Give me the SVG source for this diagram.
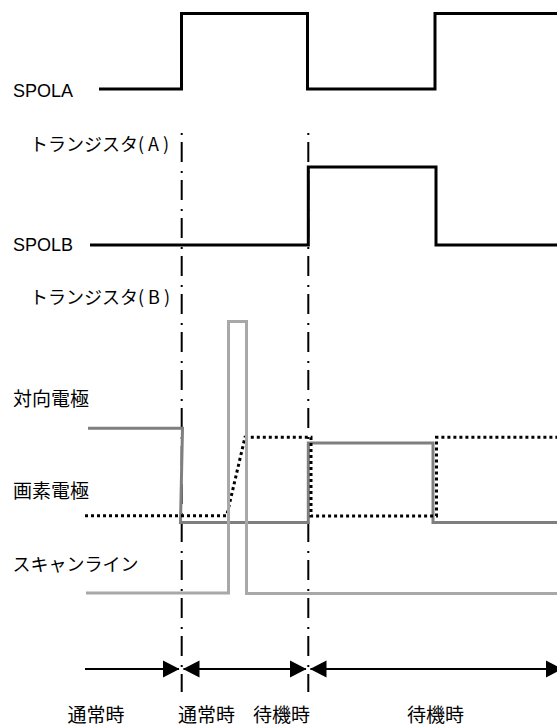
<svg xmlns="http://www.w3.org/2000/svg" width="557" height="726" viewBox="0 0 557 726">
  <style>
    .lat { font-family: "Liberation Sans", Arial, sans-serif; font-size: 18px; fill: #000; }
    .jp { font-family: "Noto Sans CJK JP", "Liberation Sans", sans-serif; font-size: 18px; fill: #000; }
    .kj { font-family: "Noto Sans CJK JP", "Liberation Sans", sans-serif; font-size: 19px; fill: #000; }
    .sig { fill: none; stroke: #000; stroke-width: 3; stroke-linejoin: miter; }
    .guide { fill: none; stroke: #000; stroke-width: 2; stroke-dasharray: 2 7 20 9; }
    .counter { fill: none; stroke: #7f7f7f; stroke-width: 3; }
    .pixel { fill: none; stroke: #000; stroke-width: 3; stroke-dasharray: 3 3; }
    .scan { fill: none; stroke: #a8a8a8; stroke-width: 3; }
    .arrow { fill: none; stroke: #000; stroke-width: 2; }
  </style>
  <defs>
    <marker id="ah" markerUnits="userSpaceOnUse" markerWidth="17" markerHeight="18" refX="16" refY="9" orient="auto-start-reverse">
      <path d="M0,0.5 L16.5,9 L0,17.5 z" fill="#000"/>
    </marker>
  </defs>

  <g id="labels">
    <text id="lbl-spola" class="lat" x="13" y="97">SPOLA</text>
    <text id="lbl-trA" class="jp" x="30" y="151">トランジスタ( A )</text>
    <text id="lbl-spolb" class="lat" x="13" y="251">SPOLB</text>
    <text id="lbl-trB" class="jp" x="30" y="304">トランジスタ( B )</text>
    <text id="lbl-counter" class="kj" x="13" y="406">対向電極</text>
    <text id="lbl-pixel" class="kj" x="13" y="498">画素電極</text>
    <text id="lbl-scan" class="jp" x="12.5" y="571">スキャンライン</text>
    <text id="lbl-t1" class="kj" x="96" y="722" text-anchor="middle">通常時</text>
    <text id="lbl-t2" class="kj" x="206.5" y="722" text-anchor="middle">通常時</text>
    <text id="lbl-t3" class="kj" x="281.5" y="722" text-anchor="middle">待機時</text>
    <text id="lbl-t4" class="kj" x="435.5" y="722" text-anchor="middle">待機時</text>
  </g>

  <g id="guides">
    <line class="guide" x1="181.7" y1="133" x2="181.7" y2="692"/>
    <line class="guide" x1="308.3" y1="133" x2="308.3" y2="692"/>
  </g>

  <g id="spola">
    <path class="sig" d="M99 89 H181.5 V13.5 H307.5 V89 H435 V13.5 H557"/>
  </g>
  <g id="spolb">
    <path class="sig" d="M90 245 H308.3 V167 H436 V245 H557"/>
  </g>
  <g id="counter-electrode">
    <path class="counter" d="M88 428.3 H182.5 L180.5 522.5 H308.3 V443 H433 V522.5 H557"/>
  </g>
  <g id="pixel-electrode">
    <path class="pixel" d="M85 515.7 H226.7 L245 437.3 H311 V516 H436.5 V437.3 H557"/>
  </g>
  <g id="scan-line">
    <path class="scan" d="M86 593 H228.5 V321.5 H246.5 V593.5 H557"/>
  </g>

  <g id="connectors">
    <path class="arrow" d="M85 669 H179" marker-end="url(#ah)"/>
    <path class="arrow" d="M183.5 669 H306" marker-start="url(#ah)" marker-end="url(#ah)"/>
    <path class="arrow" d="M310.5 669 H562" marker-start="url(#ah)" marker-end="url(#ah)"/>
  </g>
</svg>
